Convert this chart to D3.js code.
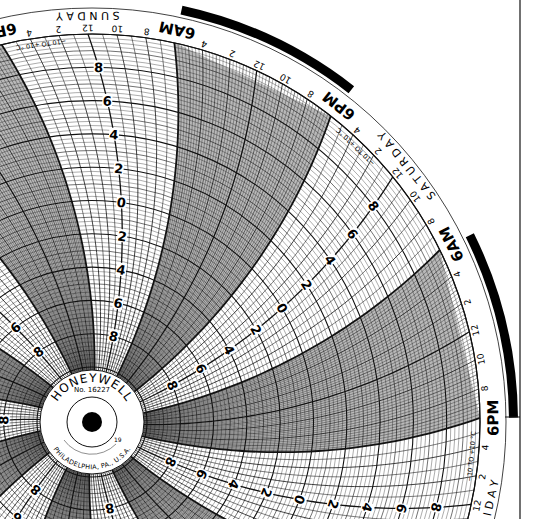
<!DOCTYPE html>
<html><head><meta charset="utf-8">
<script src="https://cdn.jsdelivr.net/npm/d3@7"></script>
<style>body{margin:0;background:#fff}svg{display:block}</style>
</head><body>
<svg id="chart" width="542" height="519"></svg>
<script>
// chart data
var days = ["FRIDAY", "SATURDAY", "SUNDAY", "MONDAY", "TUESDAY", "WEDNESDAY", "THURSDAY"];
var hourLabels = ["6PM", "8", "10", "12", "2", "4", "6AM", "8", "10", "12", "2", "4"]; // every 2h from 6PM
var valueLabels = [-8, -6, -4, -2, 0, 2, 4, 6, 8];
var nightStarts = [0, 24, 48, 72, 96, 120, 144]; // hours after Fri 6PM, each 12h long

var cx = 92, cy = 422;
var hubR = 52, gridR = 388, ringR = 414, arm = 600;
var svg = d3.select("#chart");

var rScale = d3.scaleLinear().domain([-10, 10]).range([55, gridR]);
var aScale = d3.scaleLinear().domain([0, 168]).range([0.6, 360.6]);

var rad = Math.PI / 180;
function pt(r, deg) { return [cx + r * Math.cos(deg * rad), cy - r * Math.sin(deg * rad)]; }
function bend(r) { return Math.acos(Math.min(r, 2 * arm) / (2 * arm)) / rad; }
function lineAng(t, r) { return aScale(t) + bend(gridR) - bend(r); }
function curve(t, r0, r1) {
  var pts = [], n = 40;
  for (var i = 0; i <= n; i++) { var r = r0 + (r1 - r0) * i / n; pts.push(pt(r, lineAng(t, r))); }
  return pts;
}

// night shading
nightStarts.forEach(function(t0) {
  var a = curve(t0, hubR, gridR), b = curve(t0 + 12, gridR, hubR);
  svg.append("path").attr("d", d3.line()(a.concat(b)) + "Z").attr("fill", "#b9b9b9");
});

// concentric value circles
d3.range(-10, 10.01, 0.25).forEach(function(v) {
  var whole = Math.abs(v - Math.round(v)) < 1e-6;
  var even = whole && Math.round(v) % 2 === 0;
  svg.append("circle").attr("cx", cx).attr("cy", cy).attr("r", rScale(v))
    .attr("fill", "none").attr("stroke", "#111")
    .attr("stroke-width", even ? 1.1 : whole ? 0.6 : 0.35);
});

// time lines
d3.range(0, 168, 0.25).forEach(function(t) {
  var h = ((t % 24) + 24) % 24;
  var inNight = h < 12;
  var isHour = Math.abs(h - Math.round(h)) < 1e-6;
  if (!isHour && !inNight) return;
  var w = 0.35;
  if (isHour) w = 0.55;
  if (isHour && Math.round(h) % 2 === 0) w = 0.8;
  if (isHour && Math.round(h) % 6 === 0) w = 1.3;
  if (isHour && Math.round(h) % 12 === 0) w = 1.8;
  svg.append("path").attr("d", d3.line()(curve(t, hubR, gridR)))
    .attr("fill", "none").attr("stroke", "#111").attr("stroke-width", w);
});

// value labels along each noon line
days.forEach(function(d, i) {
  var t = (i * 24 - 6 + 168) % 168;
  valueLabels.forEach(function(v) {
    var r = rScale(v), a = lineAng(t, r), p = pt(r, a);
    var g = svg.append("g").attr("transform", "translate(" + p[0] + "," + p[1] + ") rotate(" + (90 - a) + ")");
    g.append("rect").attr("x", -5).attr("y", -7).attr("width", 10).attr("height", 13).attr("fill", "#fff");
    g.append("text").attr("text-anchor", "middle").attr("dy", "0.36em")
      .style("font", "bold 13px 'DejaVu Sans'").text(Math.abs(v));
  });
  // range note near outer edge
  var tn = t + 3.3, an = aScale(tn), pn = pt(gridR - 7, an);
  svg.append("text").attr("transform", "translate(" + pn[0] + "," + pn[1] + ") rotate(" + (-90 - an) + ")")
    .attr("text-anchor", "middle").attr("dy", "0.35em")
    .style("font", "6.5px 'DejaVu Sans'").text("\u221210 TO +10 \u00b0C");
});

// outer ring
svg.append("circle").attr("cx", cx).attr("cy", cy).attr("r", gridR).attr("fill", "none").attr("stroke", "#111").attr("stroke-width", 1.2);
svg.append("circle").attr("cx", cx).attr("cy", cy).attr("r", ringR).attr("fill", "none").attr("stroke", "#111").attr("stroke-width", 0.8);

function ringText(txt, t, r, font) {
  var a = aScale(t), p = pt(r, a);
  svg.append("text").attr("transform", "translate(" + p[0] + "," + p[1] + ") rotate(" + (-90 - a) + ")")
    .attr("text-anchor", "middle").attr("dy", "0.35em").style("font", font).text(txt);
}
d3.range(0, 168, 2).forEach(function(t) {
  var lab = hourLabels[(t % 24) / 2];
  if (lab.length > 2) ringText(lab, t, 401, "bold 15px 'DejaVu Sans'");
  else ringText(lab, t, 394, "9px 'DejaVu Sans'");
});
days.forEach(function(d, i) {
  ringText(d.split("").join(" "), (i * 24 - 6 + 168) % 168, 406, "11px 'DejaVu Sans'");
});

// black night arcs on the rim
var rimArc = d3.arc().innerRadius(417).outerRadius(426);
nightStarts.forEach(function(t0) {
  svg.append("path").attr("transform", "translate(" + cx + "," + cy + ")")
    .attr("d", rimArc({ startAngle: (90 - aScale(t0 + 12)) * rad, endAngle: (90 - aScale(t0)) * rad }))
    .attr("fill", "#000");
});

// hub
svg.append("circle").attr("cx", cx).attr("cy", cy).attr("r", hubR).attr("fill", "#fff").attr("stroke", "#111").attr("stroke-width", 1);
svg.append("circle").attr("cx", cx).attr("cy", cy).attr("r", 25).attr("fill", "none").attr("stroke", "#111").attr("stroke-width", 1);
svg.append("circle").attr("cx", cx).attr("cy", cy).attr("r", 10).attr("fill", "#000");
var defs = svg.append("defs");
defs.append("path").attr("id", "hubTop").attr("d", "M" + (cx - 40) + "," + cy + " A40,40 0 0,1 " + (cx + 40) + "," + cy);
defs.append("path").attr("id", "hubBot").attr("d", "M" + (cx - 44) + "," + cy + " A44,44 0 0,0 " + (cx + 44) + "," + cy);
svg.append("text").style("font", "12px 'DejaVu Sans'").style("letter-spacing", "1px")
  .append("textPath").attr("href", "#hubTop").attr("startOffset", "50%").attr("text-anchor", "middle").text("HONEYWELL");
svg.append("text").style("font", "6.5px 'DejaVu Sans'").attr("dy", "0.5em")
  .append("textPath").attr("href", "#hubBot").attr("startOffset", "50%").attr("text-anchor", "middle").text("PHILADELPHIA, PA., U.S.A.");
svg.append("text").attr("x", cx).attr("y", cy - 30).attr("text-anchor", "middle").style("font", "7px 'DejaVu Sans'").text("No. 16227");
svg.append("path").attr("d", "M" + (cx - 28) + "," + (cy + 18) + " A34,34 0 0,0 " + (cx + 24) + "," + (cy + 22))
  .attr("fill", "none").attr("stroke", "#444").attr("stroke-width", 0.6);
svg.append("text").attr("x", cx + 22).attr("y", cy + 20).style("font", "6px 'DejaVu Sans'").text("19");

// paper edge
svg.append("line").attr("x1", 520).attr("x2", 520).attr("y1", 0).attr("y2", 519).attr("stroke", "#111").attr("stroke-width", 1.2);
svg.append("line").attr("x1", 505).attr("x2", 520).attr("y1", 417).attr("y2", 417).attr("stroke", "#111").attr("stroke-width", 1);
</script>
</body></html>
